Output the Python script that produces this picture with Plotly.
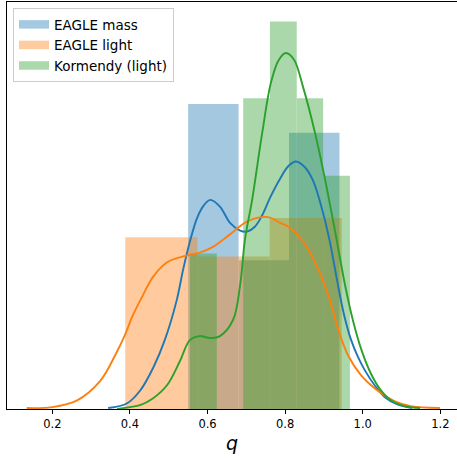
import plotly.graph_objects as go

# Axial ratio q: histogram bin edges and normalised counts (probability density)
mass_edges = [0.550, 0.680, 0.810, 0.940]
mass_density = [3.18, 1.55, 2.88]

light_edges = [0.388, 0.574, 0.760, 0.946]
light_density = [1.79, 1.59, 1.99]

korm_edges = [0.555, 0.624, 0.692, 0.761, 0.830, 0.898, 0.967]
korm_density = [1.62, 0.0, 3.24, 4.04, 3.24, 2.43]

# Kernel density estimates of each sample
mass_kde_q = [0.344, 0.393, 0.426, 0.460, 0.490, 0.521, 0.537, 0.555, 0.573, 0.590,
              0.607, 0.632, 0.658, 0.684, 0.702, 0.722, 0.741, 0.761, 0.787, 0.808,
              0.828, 0.851, 0.872, 0.898, 0.916, 0.934, 0.952, 0.970, 0.988, 1.006,
              1.032, 1.058, 1.088, 1.127]
mass_kde = [0.01, 0.06, 0.19, 0.43, 0.72, 1.14, 1.45, 1.75, 1.99, 2.12,
            2.18, 2.11, 1.94, 1.86, 1.85, 1.90, 2.02, 2.20, 2.40, 2.53,
            2.58, 2.52, 2.38, 2.04, 1.73, 1.34, 0.98, 0.72, 0.54, 0.40,
            0.24, 0.12, 0.05, 0.01]

light_kde_q = [0.134, 0.200, 0.264, 0.323, 0.362, 0.387, 0.408, 0.434, 0.460, 0.496,
               0.537, 0.580, 0.614, 0.658, 0.705, 0.756, 0.787, 0.808, 0.834, 0.867,
               0.911, 0.936, 0.962, 0.996, 1.039, 1.083, 1.124, 1.199]
light_kde = [0.01, 0.02, 0.09, 0.29, 0.56, 0.77, 0.98, 1.19, 1.38, 1.53,
             1.59, 1.63, 1.69, 1.82, 1.96, 2.00, 1.94, 1.90, 1.81, 1.61,
             1.19, 0.84, 0.56, 0.35, 0.19, 0.08, 0.03, 0.01]

korm_kde_q = [0.367, 0.400, 0.426, 0.459, 0.496, 0.529, 0.555, 0.580, 0.606, 0.632,
              0.666, 0.684, 0.697, 0.715, 0.741, 0.764, 0.784, 0.802, 0.823, 0.846,
              0.877, 0.903, 0.928, 0.954, 0.975, 0.998, 1.021, 1.044, 1.070, 1.109,
              1.148]
korm_kde = [0.00, 0.02, 0.04, 0.11, 0.25, 0.50, 0.72, 0.76, 0.74, 0.76,
            0.93, 1.29, 1.78, 2.18, 2.88, 3.41, 3.64, 3.71, 3.64, 3.36,
            2.88, 2.39, 1.87, 1.30, 0.92, 0.60, 0.37, 0.21, 0.10, 0.03,
            0.01]

x_ticks = [0.2, 0.4, 0.6, 0.8, 1.0, 1.2]
x_range = [0.0832, 1.243]
y_range = [0, 4.242]

series = [
    ("EAGLE mass", "#1f77b4", "rgba(31,119,180,0.4)", mass_edges, mass_density, mass_kde_q, mass_kde),
    ("EAGLE light", "#ff7f0e", "rgba(255,127,14,0.4)", light_edges, light_density, light_kde_q, light_kde),
    ("Kormendy (light)", "#2ca02c", "rgba(44,160,44,0.4)", korm_edges, korm_density, korm_kde_q, korm_kde),
]

fig = go.Figure()
# histograms (drawn beneath every density curve)
for name, color, fill, edges, dens, kq, kd in series:
    centers = [(a + b) / 2 for a, b in zip(edges[:-1], edges[1:])]
    widths = [b - a for a, b in zip(edges[:-1], edges[1:])]
    fig.add_trace(go.Bar(x=centers, y=dens, width=widths, marker_color=color,
                         marker_line_width=0, opacity=0.4, showlegend=False,
                         hoverinfo="skip"))
# density curves
for name, color, fill, edges, dens, kq, kd in series:
    fig.add_trace(go.Scatter(x=kq, y=kd, mode="lines",
                             line=dict(color=color, width=1.9, shape="spline", smoothing=1),
                             showlegend=False, hoverinfo="skip"))

# legend swatches
for name, color, fill, *_ in series:
    fig.add_trace(go.Scatter(x=[None], y=[None], mode="lines", name=name,
                             line=dict(color=fill, width=8.5)))

font = "DejaVu Sans"
fig.update_layout(
    width=457, height=461,
    margin=dict(l=7, r=0, t=2, b=52),
    plot_bgcolor="white", paper_bgcolor="white",
    barmode="overlay",
    font=dict(family=font, color="#000000"),
    xaxis=dict(range=x_range, tickvals=x_ticks, ticktext=[f"{v:.1f}" for v in x_ticks],
               ticks="outside", ticklen=4, tickwidth=1, tickcolor="#000",
               showline=True, linecolor="#000", linewidth=1, mirror=True,
               showgrid=False, zeroline=False, tickfont=dict(size=11.5, family=font),
               title=dict(text="<i>q</i>", font=dict(size=19, family=font), standoff=6)),
    yaxis=dict(range=y_range, showline=True, linecolor="#000", linewidth=1,
               showticklabels=False, ticks="", showgrid=False, zeroline=False),
    legend=dict(x=0.0133, y=0.985, xanchor="left", yanchor="top",
                bgcolor="rgba(255,255,255,0.8)", bordercolor="#cccccc", borderwidth=1,
                font=dict(size=13.5, family=font, color="#000")),
)

fig.write_html("out.html")
